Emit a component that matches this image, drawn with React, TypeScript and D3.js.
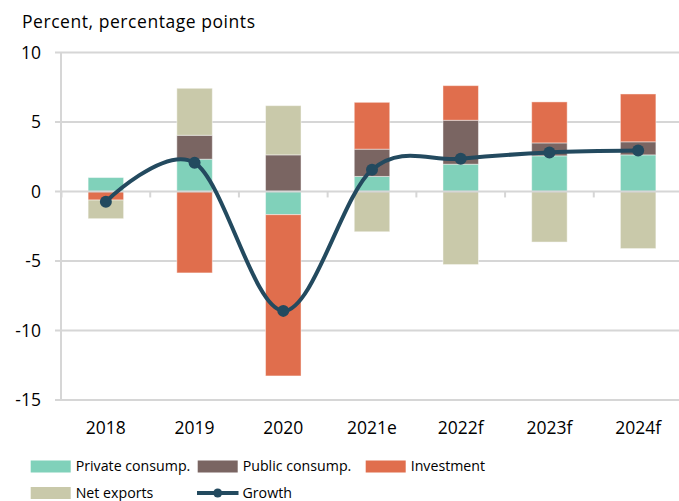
import React from "react";
import * as d3 from "d3";

const categories = ["2018", "2019", "2020", "2021e", "2022f", "2023f", "2024f"];
const privateConsump = [1.0, 2.32, -1.67, 1.08, 1.96, 2.56, 2.63];
const publicConsump = [0.0, 1.72, 2.63, 1.96, 3.16, 0.93, 0.94];
const investment = [-0.62, -5.86, -11.6, 3.37, 2.49, 2.95, 3.44];
const netExports = [-1.34, 3.38, 3.54, -2.9, -5.26, -3.64, -4.11];
const growth = [-0.74, 2.06, -8.59, 1.56, 2.35, 2.8, 2.94];
const yTicks = [10, 5, 0, -5, -10, -15];

const seriesNames = ["Private consump.", "Public consump.", "Investment", "Net exports"];
const seriesColors = ["#80D1BA", "#7A6562", "#E06E4D", "#C9C9AA"];
const lineColor = "#234A5F";
const gridColor = "#D6D6D6";
const FONT = "'Open Sans', sans-serif";

export default function App() {
  const W = 679, H = 501;
  const x = d3.scaleBand<string>().domain(categories).range([61.5, 682.5]).paddingInner(0.6).paddingOuter(0.3);
  const xc = (c: string) => (x(c) as number) + x.bandwidth() / 2;
  const y = d3.scaleLinear().domain([-15, 10]).range([400, 52.4]);

  const rows = categories.map((c, i) => ({
    cat: c,
    s0: privateConsump[i],
    s1: publicConsump[i],
    s2: investment[i],
    s3: netExports[i],
  }));
  const stack = d3.stack<any>().keys(["s0", "s1", "s2", "s3"]).offset(d3.stackOffsetDiverging);
  const stacked = stack(rows);

  const step = x.step();
  const boundaries = d3.range(categories.length + 1).map((i) => 61.5 + i * step);

  const line = d3
    .line<number>()
    .x((_, i) => xc(categories[i]))
    .y((d) => y(d))
    .curve(d3.curveCardinal.tension(0));

  const legendRow1 = 466.5;
  const legendRow2 = 493;

  return (
    <svg width={W} height={H} style={{ position: "absolute", left: 0, top: 0 }} fontFamily={FONT}>
      <rect width={W} height={H} fill="#fff" />
      <text x={22} y={28} fontSize={17.5} textLength={233} lengthAdjust="spacing" fill="#000">Percent, percentage points</text>
      {yTicks.map((t) => (
        <g key={t}>
          {t !== 0 && <line x1={55} x2={W} y1={y(t)} y2={y(t)} stroke={gridColor} strokeWidth={2} />}
          <text x={41} y={y(t)} dy="0.35em" textAnchor="end" fontSize={17.5} fill="#000">{t}</text>
        </g>
      ))}
      <line x1={61} x2={61} y1={y(10)} y2={y(-15)} stroke={gridColor} strokeWidth={2} />
      {stacked.map((s, si) => (
        <g key={si}>
          {s.map((d, i) => {
            const y0 = y(Math.max(d[0], d[1]));
            const y1 = y(Math.min(d[0], d[1]));
            if (y1 - y0 < 0.01) return null;
            return (
              <rect
                key={i}
                x={x(categories[i])}
                y={y0}
                width={x.bandwidth()}
                height={y1 - y0}
                fill={seriesColors[si]}
                stroke="#fff"
                strokeOpacity={0.45}
                strokeWidth={1}
              />
            );
          })}
        </g>
      ))}
      <line x1={55} x2={W} y1={y(0)} y2={y(0)} stroke={gridColor} strokeWidth={2} />
      {boundaries.map((b, i) => (
        <line key={i} x1={b} x2={b} y1={y(0)} y2={y(0) + 6} stroke={gridColor} strokeWidth={2} />
      ))}
      <path d={line(growth) as string} fill="none" stroke={lineColor} strokeWidth={4} />
      {growth.map((g, i) => (
        <circle key={i} cx={xc(categories[i])} cy={y(g)} r={6} fill={lineColor} />
      ))}
      {categories.map((c) => (
        <text key={c} x={xc(c)} y={434} textAnchor="middle" fontSize={17.5} fill="#000">{c}</text>
      ))}
      {[
        { i: 0, sx: 30.7, ty: legendRow1 },
        { i: 1, sx: 197.7, ty: legendRow1 },
        { i: 2, sx: 365.7, ty: legendRow1 },
        { i: 3, sx: 30.7, ty: legendRow2 },
      ].map(({ i, sx, ty }) => (
        <g key={i}>
          <rect x={sx} y={ty - 6} width={40} height={12} fill={seriesColors[i]} />
          <text x={sx + 45} y={ty} dy="0.35em" fontSize={14.2} fill="#000">{seriesNames[i]}</text>
        </g>
      ))}
      <g>
        <line x1={197} x2={238.5} y1={legendRow2} y2={legendRow2} stroke={lineColor} strokeWidth={4} />
        <circle cx={217.7} cy={legendRow2} r={4.5} fill={lineColor} />
        <text x={242.5} y={legendRow2} dy="0.35em" fontSize={14.2} fill="#000">Growth</text>
      </g>
    </svg>
  );
}
